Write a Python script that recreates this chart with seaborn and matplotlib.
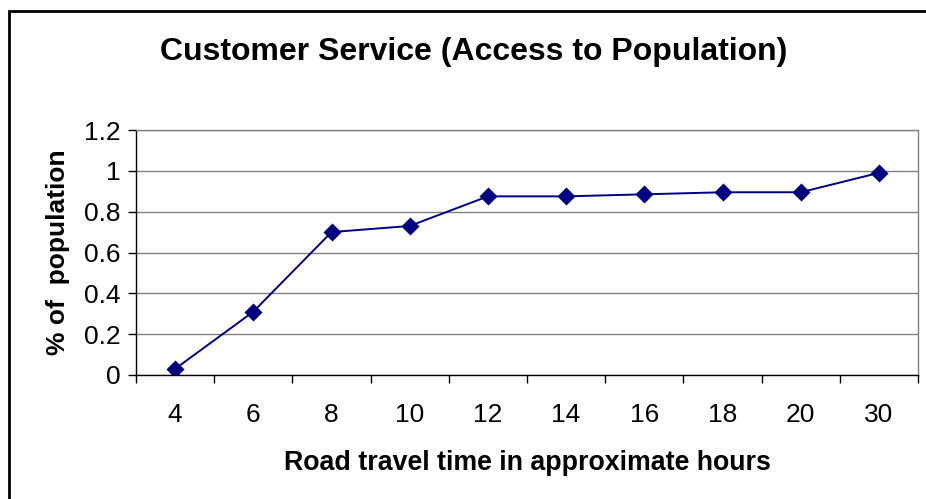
import matplotlib
matplotlib.use("Agg")
import matplotlib.pyplot as plt
from matplotlib.patches import Rectangle
from matplotlib.ticker import FixedLocator, FuncFormatter
import numpy as np
import pandas as pd
import seaborn as sns

# Road travel time categories (hours) and share of population reached
hours = ["4", "6", "8", "10", "12", "14", "16", "18", "20", "30"]
share = [0.03, 0.31, 0.70, 0.73, 0.875, 0.875, 0.885, 0.895, 0.895, 0.99]
y_ticks = [0, 0.2, 0.4, 0.6, 0.8, 1.0, 1.2]

title = "Customer Service (Access to Population)"
x_label = "Road travel time in approximate hours"
y_label = "% of  population"

df = pd.DataFrame({"hours": hours, "share": share})

sns.set_theme(style="white")
plt.rcParams["font.family"] = ["Liberation Sans", "DejaVu Sans"]
plt.rcParams["text.color"] = "black"
plt.rcParams["axes.labelcolor"] = "black"
plt.rcParams["xtick.color"] = "black"
plt.rcParams["ytick.color"] = "black"

navy = "#000080"
fig = plt.figure(figsize=(9.26, 4.99), dpi=100)
ax = fig.add_axes([136 / 926, 1 - 375 / 499, (918 - 136) / 926, (375 - 130) / 499])

sns.pointplot(data=df, x="hours", y="share", order=hours, color=navy,
              markers="D", markersize=8.5, linestyles="-", linewidth=1.4,
              errorbar=None, ax=ax)

ax.set_xlim(-0.5, len(hours) - 0.5)
ax.set_ylim(0, 1.2)

# horizontal gridlines
ax.yaxis.set_major_locator(FixedLocator(y_ticks))
ax.yaxis.set_major_formatter(FuncFormatter(lambda v, p: f"{v:g}"))
ax.grid(axis="y", color="#808080", linewidth=1.0)
ax.grid(axis="x", visible=False)
ax.set_axisbelow(True)

# category labels in the middle, tick marks on the boundaries
ax.set_xticks(np.arange(len(hours)))
ax.set_xticklabels(hours)
ax.set_xticks(np.arange(-0.5, len(hours)), minor=True)
ax.tick_params(axis="x", which="major", length=0, pad=20, labelsize=19, colors="black")
ax.tick_params(axis="x", which="minor", length=6, width=1.0, direction="out",
               color="black", bottom=True)
ax.tick_params(axis="y", which="major", length=6, width=1.0, direction="out",
               color="black", left=True, labelsize=19, pad=5, labelcolor="black")

for side in ("top", "right"):
    ax.spines[side].set_visible(True)
    ax.spines[side].set_color("#808080")
    ax.spines[side].set_linewidth(1.0)
for side in ("left", "bottom"):
    ax.spines[side].set_color("black")
    ax.spines[side].set_linewidth(1.0)

ax.set_xlabel(x_label, fontsize=19.3, fontweight="bold", labelpad=17, color="black")
ax.set_ylabel(y_label, fontsize=19, fontweight="bold", labelpad=10, color="black")

fig.text(474 / 926, 1 - 52 / 499, title, ha="center", va="center",
         fontsize=23, fontweight="bold", color="black")

# outer chart frame (runs off the right and bottom edges)
fig.patches.append(Rectangle((9 / 926, -0.05), 1.0, 1 - 11 / 499 + 0.05,
                             transform=fig.transFigure, fill=False,
                             edgecolor="black", linewidth=2.0))

fig.savefig("out.png", dpi=100)
